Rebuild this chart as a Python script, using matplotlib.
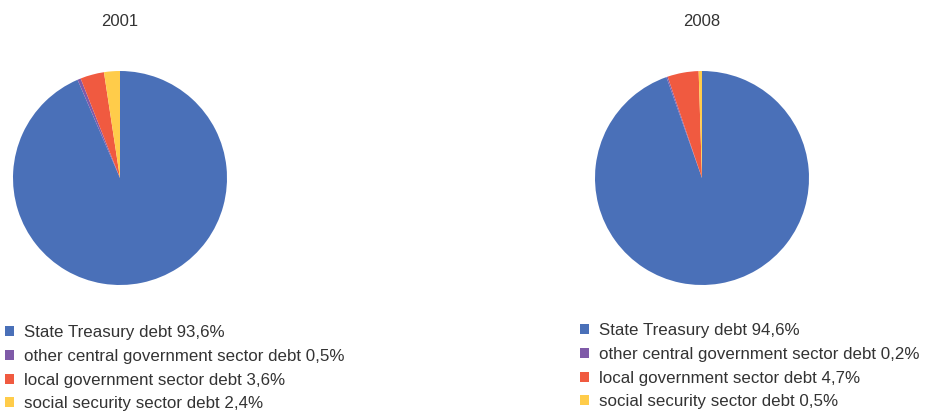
import matplotlib.pyplot as plt
from matplotlib.patches import Patch

# data
years = ['2001', '2008']
categories = ['State Treasury debt', 'other central government sector debt',
              'local government sector debt', 'social security sector debt']
shares_2001 = [93.6, 0.5, 3.6, 2.4]
shares_2008 = [94.6, 0.2, 4.7, 0.5]

colors = ['#4a70b8', '#7f5aa8', '#f05a40', '#ffcc4a']
text_color = '#333333'

plt.rcParams['font.family'] = ['Liberation Sans', 'DejaVu Sans']

W, H = 941, 413
fig = plt.figure(figsize=(W / 100, H / 100), dpi=100)


def px_axes(cx, cy, r):
    # axes square around pie center given in pixels (top-left origin)
    return fig.add_axes([(cx - r) / W, (H - cy - r) / H, 2 * r / W, 2 * r / H])


def draw_pie(cx, year, shares, legend_x, legend_y):
    ax = px_axes(cx, 178, 107)
    ax.pie(shares, colors=colors, startangle=90, counterclock=False, radius=1.0,
           wedgeprops=dict(linewidth=0))
    ax.set_xlim(-1, 1)
    ax.set_ylim(-1, 1)
    ax.set_aspect('equal')
    ax.axis('off')
    fig.text(cx / W, 1 - 22 / H, year, ha='center', va='center',
             fontsize=12, color=text_color)

    labels = [f'{c} {str(v).replace(".", ",")}%' for c, v in zip(categories, shares)]
    handles = [Patch(facecolor=c, edgecolor='none') for c in colors]
    fig.legend(handles, labels, loc='upper left',
               bbox_to_anchor=(legend_x / W, 1 - legend_y / H),
               frameon=False, fontsize=12.2, labelcolor=text_color,
               handlelength=0.53, handleheight=0.53, handletextpad=0.62,
               labelspacing=0.52, borderpad=0, borderaxespad=0)


draw_pie(120, years[0], shares_2001, 5, 325)
draw_pie(702, years[1], shares_2008, 580, 323)

fig.savefig('out.png', dpi=100)
